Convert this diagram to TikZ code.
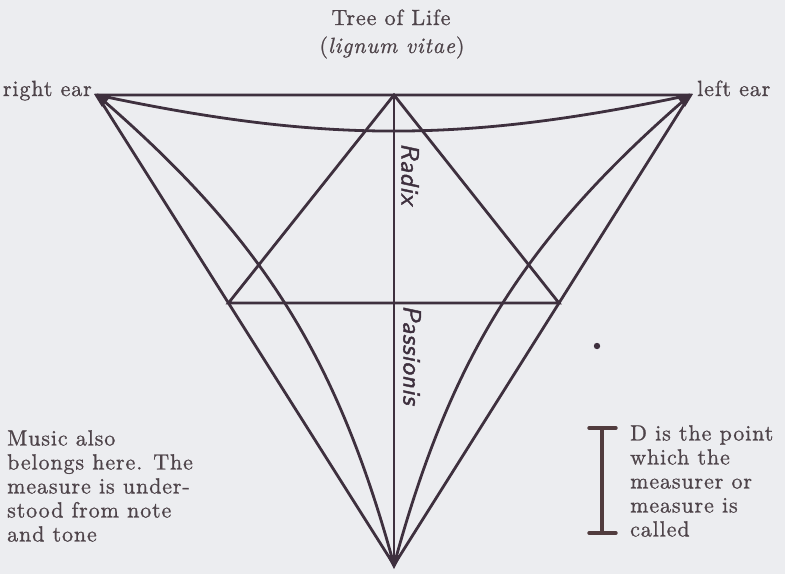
\documentclass[tikz,border=0pt]{standalone}
\usepackage{fontspec}
\setmainfont{lmroman10}[Extension=.otf, UprightFont=*-regular, ItalicFont=*-italic, LetterSpace=4, FakeBold=0.9]
\newfontfamily\handfont{lmsans10}[Extension=.otf, UprightFont=*-oblique, LetterSpace=3, FakeBold=1.6]
\usetikzlibrary{calc}
\definecolor{cInk}{RGB}{62,48,62}
\definecolor{cText}{RGB}{78,68,74}
\definecolor{cPaper}{RGB}{236,237,240}
\tikzset{
	figline/.style={line width=2.8pt, draw=cInk, line join=miter},
	lbl/.style    ={font=\fontsize{22}{24}\selectfont, text=cText, inner sep=0pt},
	note/.style   ={lbl, align=left, anchor=north west},
	hand/.style   ={font=\handfont\fontsize{25}{24}\selectfont, text=cInk, rotate=-90, inner sep=0pt},
	ibar/.style   ={line width=3.4pt, draw=cInk!85!brown},
	tip/.style    ={fill=cInk},
}

\begin{document}
\begin{tikzpicture}[x=1pt, y=-1pt]
	\fill[cPaper] (0,0) rectangle (785,574);
	\useasboundingbox (0,0) rectangle (785,574);
	% corners of the big triangle
	\coordinate (tl) at (97,95);
	\coordinate (tr) at (690,95);
	\coordinate (bt) at (394,565);
	\coordinate (tm) at (394,95);
	% ends of the cross bar
	\coordinate (hl) at ($(tl)!0.4426!(bt)$);
	\coordinate (hr) at ($(tr)!0.4426!(bt)$);
	% triangle, curves and bars
	\draw[figline] (tl) -- (tr) -- (bt) -- cycle;
	\draw[figline] (tl) to[bend right=12] (tr);
	\draw[figline] (tl) to[bend left=17] (bt);
	\draw[figline] (tr) to[bend right=17] (bt);
	\draw[figline] (hl) -- (tm) -- (hr) -- cycle;
	\draw[figline] (tm) -- (bt);
	% dark tips where the lines meet
	\fill[tip] ($(tl)+(-3,-1)$) -- ++(17,2) -- ++(-9,11) -- cycle;
	\fill[tip] ($(tr)+(3,-1)$) -- ++(-17,2) -- ++(9,11) -- cycle;
	\fill[tip] ($(bt)+(0,4)$) -- ++(-7,-14) -- ++(14,0) -- cycle;
	\fill[cInk] (597,346) circle[radius=3.2pt];
	% measure bar
	\coordinate (it) at (602,428);
	\coordinate (ib) at (602,533);
	\draw[ibar] (it) -- (ib);
	\draw[ibar, line cap=round] ($(it)+(-13,0)$) -- ($(it)+(14,0)$);
	\draw[ibar, line cap=round] ($(ib)+(-13,0)$) -- ($(ib)+(14,0)$);
	% labels
	\node[lbl, anchor=base] (tree) at (391,25) {Tree of Life};
	\node[lbl, anchor=base] (lign) at (392,53) {(\textit{lignum vitae})};
	\node[lbl, anchor=base east] (rear) at ($(tl)+(-5,1)$) {right ear};
	\node[lbl, anchor=base west] (lear) at ($(tr)+(7,1)$) {left ear};
	\node[hand] (radix) at (410,174) {Radix};
	\node[hand] (pass) at (412,355) {Passionis};
	\node[note] (music) at (7,430) {Music also\\belongs here. The\\measure is under-\\stood from note\\and tone};
	\node[note] (dpt) at (630,425) {D is the point\\which the\\measurer or\\measure is\\called};
\end{tikzpicture}
\end{document}
